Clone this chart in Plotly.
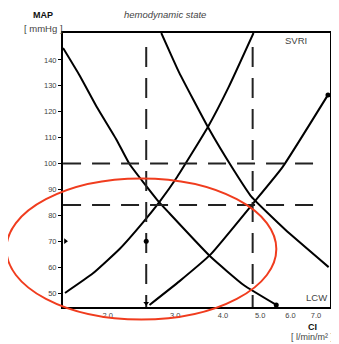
"""
Hemodynamic state diagram: MAP vs CI with SVRI and LCW isolines.
"""

import plotly.graph_objects as go

# CI tick labels (log axis) and MAP ticks
CI_TICKS = [2.0, 3.0, 4.0, 5.0, 6.0, 7.0]
CI_TICK_TEXT = ["2.0", "3.0", "4.0", "5.0", "6.0", "7.0"]
MAP_TICKS = [50, 60, 70, 80, 90, 100, 110, 120, 130, 140]

# LCW isolines (decreasing)
LCW_LOW_CI = [1.528, 1.691, 1.872, 2.109, 2.279, 2.694, 2.893, 3.718, 4.528, 5.512]
LCW_LOW_MAP = [144.6, 133.8, 121.8, 109.1, 99.8, 85.9, 80.9, 63.9, 53.1, 45.4]

LCW_HIGH_CI = [2.759, 2.893, 3.075, 3.652, 4.265, 4.749, 5.82, 7.55]
LCW_HIGH_MAP = [150.4, 143.6, 135.0, 114.1, 97.5, 87.1, 74.4, 60.0]

# SVRI isolines (increasing)
SVRI_HIGH_CI = [1.546, 1.826, 2.147, 2.463, 2.726, 3.035, 3.652, 4.14, 4.805]
SVRI_HIGH_MAP = [50.0, 57.5, 67.0, 77.0, 85.1, 94.8, 114.1, 129.6, 150.4]

SVRI_LOW_CI = [2.57, 3.075, 3.718, 4.806, 5.715, 7.52]
SVRI_LOW_MAP = [45.4, 54.5, 65.0, 84.8, 98.5, 126.5]

# dashed reference lines
REF_MAP = [100, 84]
REF_CI = [2.52, 4.78]
REF_CI_END = 7.08
REF_MAP_TOP = 145

# small point marks
MARK_CI = [1.55, 2.52, 2.52, 5.51, 7.52]
MARK_MAP = [70, 70, 46, 45.4, 126.5]
MARK_SYMBOL = ["triangle-right", "circle", "triangle-down", "circle", "circle"]

X_RANGE = [0.184, 0.8815]
Y_RANGE = [44.6, 150.4]
FONT = "Liberation Sans, Arial, sans-serif"


def build_fig():
    fig = go.Figure()

    for xs, ys in [
        (LCW_LOW_CI, LCW_LOW_MAP),
        (LCW_HIGH_CI, LCW_HIGH_MAP),
        (SVRI_HIGH_CI, SVRI_HIGH_MAP),
        (SVRI_LOW_CI, SVRI_LOW_MAP),
    ]:
        fig.add_trace(go.Scatter(
            x=xs, y=ys, mode="lines",
            line=dict(color="black", width=2, shape="spline", smoothing=0.4),
            hoverinfo="none", showlegend=False,
        ))

    for m in REF_MAP:
        fig.add_trace(go.Scatter(
            x=[LCW_LOW_CI[0], REF_CI_END], y=[m, m], mode="lines",
            line=dict(color="#222", width=2, dash="18px,11px"),
            hoverinfo="none", showlegend=False,
        ))
    for c in REF_CI:
        fig.add_trace(go.Scatter(
            x=[c, c], y=[REF_MAP_TOP, Y_RANGE[0]], mode="lines",
            line=dict(color="#222", width=2, dash="20px,11px"),
            hoverinfo="none", showlegend=False,
        ))

    fig.add_trace(go.Scatter(
        x=MARK_CI, y=MARK_MAP, mode="markers",
        marker=dict(color="black", size=5, symbol=MARK_SYMBOL),
        hoverinfo="none", showlegend=False, cliponaxis=False,
    ))

    # red highlight ellipse (pixel-estimated, paper coords)
    fig.add_shape(
        type="circle", xref="paper", yref="paper",
        x0=-0.212, x1=0.799, y0=-0.046, y1=0.469,
        line=dict(color="#F03C1E", width=2),
    )

    small = dict(family=FONT, size=9.5, color="#444")
    texts = [
        ("<b>MAP</b>", -0.074, 1.066, dict(family=FONT, size=9, color="#111")),
        ("[ mmHg ]", -0.074, 1.018, small),
        ("<i>hemodynamic state</i>", 0.383, 1.066, small),
        ("SVRI", 0.874, 0.971, small),
        ("LCW", 0.948, 0.033, small),
        ("<b>CI</b>", 0.933, -0.072, dict(family=FONT, size=9, color="#111")),
        ("[ l/min/m² ]", 0.933, -0.111, dict(family=FONT, size=9, color="#444")),
    ]
    for t, x, y, f in texts:
        fig.add_annotation(
            text=t, x=x, y=y, xref="paper", yref="paper",
            showarrow=False, xanchor="center", yanchor="middle", font=f,
        )

    # page body adds an 8px offset, so the figure is sized to fit the window
    fig.update_layout(
        width=331, height=336,
        margin=dict(l=55, r=7, t=25, b=37),
        plot_bgcolor="white", paper_bgcolor="white",
        showlegend=False,
        xaxis=dict(
            type="log", range=X_RANGE, tickvals=CI_TICKS, ticktext=CI_TICK_TEXT,
            showgrid=False, zeroline=False, showline=True, mirror=True,
            linecolor="black", linewidth=2, ticks="",
            tickfont=dict(family=FONT, size=7.5, color="#444"),
        ),
        yaxis=dict(
            range=Y_RANGE, tickvals=MAP_TICKS,
            showgrid=False, zeroline=False, showline=True, mirror=True,
            linecolor="black", linewidth=2, ticks="outside", ticklen=3,
            tickcolor="black", tickwidth=1,
            tickfont=dict(family=FONT, size=7.5, color="#444"),
        ),
    )
    return fig


fig = build_fig()
fig.write_html("out.html")
